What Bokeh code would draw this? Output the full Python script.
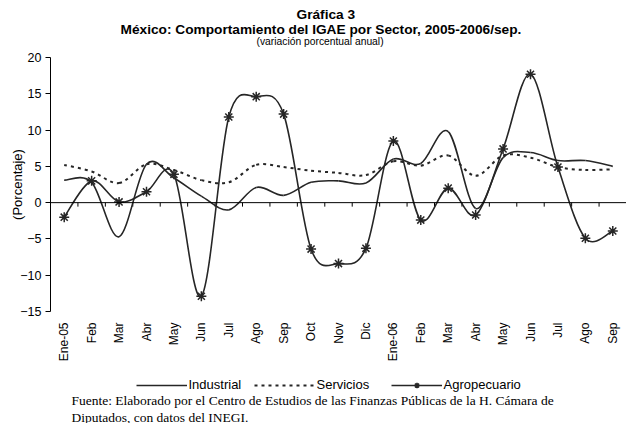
import math
import numpy as np
from bokeh.plotting import figure
from bokeh.layouts import column
from bokeh.models import (Range1d, FixedTicker, Span, Title, Label,
                          Legend, LegendItem, ColumnDataSource)
from bokeh.embed import file_html
from bokeh.resources import INLINE

# ---------------- data ----------------
months = ["Ene-05", "Feb", "Mar", "Abr", "May", "Jun", "Jul", "Ago", "Sep",
          "Oct", "Nov", "Dic", "Ene-06", "Feb", "Mar", "Abr", "May", "Jun",
          "Jul", "Ago", "Sep"]
industrial = [3.1, 2.8, -4.7, 5.3, 3.4, 0.9, -1.0, 2.1, 1.0, 2.8, 3.0, 2.7,
              6.0, 5.4, 9.8, -0.8, 6.2, 6.9, 5.8, 5.8, 5.0]
servicios = [5.2, 4.3, 2.7, 5.3, 4.5, 3.1, 2.8, 5.2, 4.9, 4.4, 4.1, 3.8,
             5.7, 5.1, 6.5, 3.7, 6.5, 6.2, 4.9, 4.5, 4.6]
agropecuario = [-2.0, 3.0, 0.1, 1.5, 3.9, -12.9, 11.8, 14.6, 12.2, -6.4,
                -8.4, -6.3, 8.5, -2.4, 2.0, -1.7, 7.4, 17.7, 4.9, -4.9, -3.9]
y_ticks = [-15, -10, -5, 0, 5, 10, 15, 20]
series_names = ["Industrial", "Servicios", "Agropecuario"]

title_1 = "Gráfica 3"
title_2 = "México: Comportamiento del IGAE  por Sector, 2005-2006/sep."
subtitle = "(variación porcentual anual)"
y_label = "(Porcentaje)"
source_1 = ("Fuente: Elaborado por el Centro de Estudios de las Finanzas "
            "Públicas de la H. Cámara de")
source_2 = "Diputados, con datos del INEGI."

SANS = "Liberation Sans"
SERIF = "Liberation Serif"
LINE = "#262626"

W = 626
TOTAL_H = 423
TOP = 57
FRAME_H = 255
MAIN_H = 364
FOOT_H = TOTAL_H - MAIN_H
STRIP_DX = 43.5      # horizontal offset of the strip's frame inside the page
Y_MIN, Y_MAX = -15, 20
x_pos = list(range(len(months)))
boundaries = [i + 0.5 for i in range(len(months) - 1)]


def smooth_source(ys):
    """Excel-style smoothed line: cubic Bezier segments through the points."""
    x = np.asarray(x_pos, dtype=float)
    y = np.asarray(ys, dtype=float)
    xp = np.concatenate([[x[0]], x, [x[-1]]])
    yp = np.concatenate([[y[0]], y, [y[-1]]])
    n = len(x)
    x0, y0, x1, y1 = x[:-1], y[:-1], x[1:], y[1:]
    xprev, yprev = xp[0:n - 1], yp[0:n - 1]
    xnext, ynext = xp[3:n + 2], yp[3:n + 2]
    return ColumnDataSource(dict(
        x0=x0, y0=y0, x1=x1, y1=y1,
        cx0=x0 + (x1 - xprev) / 6.0, cy0=y0 + (y1 - yprev) / 6.0,
        cx1=x1 - (xnext - x0) / 6.0, cy1=y1 - (ynext - y0) / 6.0))


p = figure(width=W, height=MAIN_H, output_backend="svg", toolbar_location=None,
           x_range=Range1d(-0.5, 20.5), y_range=Range1d(Y_MIN, Y_MAX),
           min_border_left=50, min_border_right=0, min_border_top=TOP,
           min_border_bottom=MAIN_H - TOP - FRAME_H)
p.outline_line_color = None
p.grid.visible = False
p.background_fill_color = "white"
p.border_fill_color = "white"

# ---- category axis (labels at the bottom) ----
xax = p.xaxis[0]
xax.ticker = FixedTicker(ticks=x_pos)
xax.major_label_overrides = {i: m for i, m in enumerate(months)}
xax.major_label_orientation = math.pi / 2
xax.axis_line_color = None
xax.major_tick_line_color = None
xax.minor_tick_line_color = None
xax.major_tick_out = 0
xax.major_tick_in = 0
xax.major_label_standoff = 11
xax.major_label_text_font = SANS
xax.major_label_text_font_size = "12px"
xax.major_label_text_color = "black"

# ---- value axis ----
yax = p.yaxis[0]
yax.ticker = FixedTicker(ticks=y_ticks)
yax.major_tick_out = 5
yax.major_tick_in = 0
yax.minor_tick_line_color = None
yax.axis_line_color = "black"
yax.major_tick_line_color = "black"
yax.major_label_standoff = 4
yax.major_label_text_font = SANS
yax.major_label_text_font_size = "12.5px"
yax.major_label_text_color = "black"
yax.axis_label = y_label
yax.axis_label_standoff = -8
yax.axis_label_text_font = SANS
yax.axis_label_text_font_size = "13px"
yax.axis_label_text_font_style = "normal"
yax.axis_label_text_color = "black"

# ---- horizontal axis line at zero with ticks between categories ----
p.add_layout(Span(location=0, dimension="width", line_color="black",
                  line_width=1))
tick_len = 4 * (Y_MAX - Y_MIN) / FRAME_H   # 4 px expressed in data units
p.segment(x0=boundaries, y0=[0] * len(boundaries), x1=boundaries,
          y1=[-tick_len] * len(boundaries), line_color="black", line_width=1)

# ---- series ----
p.bezier(x0="x0", y0="y0", x1="x1", y1="y1", cx0="cx0", cy0="cy0",
         cx1="cx1", cy1="cy1", source=smooth_source(servicios),
         line_color=LINE, line_width=2, line_dash="3 4")
p.bezier(x0="x0", y0="y0", x1="x1", y1="y1", cx0="cx0", cy0="cy0",
         cx1="cx1", cy1="cy1", source=smooth_source(industrial),
         line_color=LINE, line_width=1.6)
p.bezier(x0="x0", y0="y0", x1="x1", y1="y1", cx0="cx0", cy0="cy0",
         cx1="cx1", cy1="cy1", source=smooth_source(agropecuario),
         line_color=LINE, line_width=1.6)
p.scatter(x=x_pos, y=agropecuario, marker="asterisk", size=10,
          line_color=LINE, line_width=1.5)

# ---- titles (first added sits closest to the plot) ----
p.add_layout(Title(text=" ", text_font_size="1px", standoff=8), "above")
p.add_layout(Title(text=subtitle, align="left", offset=206,
                   vertical_align="bottom", standoff=0, text_font=SANS,
                   text_font_size="10.3px", text_font_style="normal",
                   text_color="black"), "above")
p.add_layout(Title(text=title_2, align="left", offset=70,
                   vertical_align="bottom", standoff=-7.5, text_font=SANS,
                   text_font_size="13.7px", text_font_style="bold",
                   text_color="black"), "above")
p.add_layout(Title(text=title_1, align="left", offset=246,
                   vertical_align="bottom", standoff=3.6, text_font=SANS,
                   text_font_size="13.7px", text_font_style="bold",
                   text_color="black"), "above")

# ---------------- legend + source note strip ----------------
q = figure(width=W, height=FOOT_H, output_backend="svg", toolbar_location=None,
           x_range=Range1d(-0.5, 20.5), y_range=Range1d(Y_MIN, Y_MAX),
           x_axis_type=None, y_axis_type=None,
           min_border_left=0, min_border_right=0, min_border_top=0,
           min_border_bottom=0)
q.outline_line_color = None
q.grid.visible = False
q.background_fill_color = "white"
q.border_fill_color = "white"

# hidden copies of the series: they only feed the legend swatches
leg_ind = q.line(x=x_pos, y=industrial, line_color=LINE, line_width=1.6,
                 visible=False)
leg_ser = q.line(x=x_pos, y=servicios, line_color=LINE, line_width=2,
                 line_dash="3 4", visible=False)
leg_agro_l = q.line(x=x_pos, y=agropecuario, line_color=LINE,
                    line_width=1.6, visible=False)
leg_agro_m = q.scatter(x=x_pos, y=agropecuario, marker="asterisk", size=10,
                       line_color=LINE, line_width=1.5, visible=False)

LEG_CY = 21          # legend row centre, from the top of the strip
for name, rends, lx, gw in ((series_names[0], [leg_ind], 129, 51),
                            (series_names[1], [leg_ser], 247, 61),
                            (series_names[2], [leg_agro_l, leg_agro_m], 384, 51)):
    q.add_layout(Legend(items=[LegendItem(label=name, renderers=rends)],
                        location=(lx - STRIP_DX, FOOT_H - LEG_CY - 7),
                        orientation="horizontal",
                        glyph_width=gw, glyph_height=14, label_height=14,
                        label_standoff=2, spacing=0, padding=0, margin=0,
                        border_line_color=None, background_fill_alpha=0,
                        inactive_fill_alpha=0,
                        label_text_font=SANS, label_text_font_size="13px",
                        label_text_color="black"))

for txt, ycen in ((source_1, 35.5), (source_2, 52.5)):
    q.add_layout(Label(x=64.5 - STRIP_DX, y=FOOT_H - ycen, x_units="screen",
                       y_units="screen", text=txt, text_align="left",
                       text_baseline="middle", text_font=SERIF,
                       text_font_size="13.5px", text_color="black"))

layout = column(p, q, spacing=0)
open("out.html", "w").write(file_html(layout, INLINE))
